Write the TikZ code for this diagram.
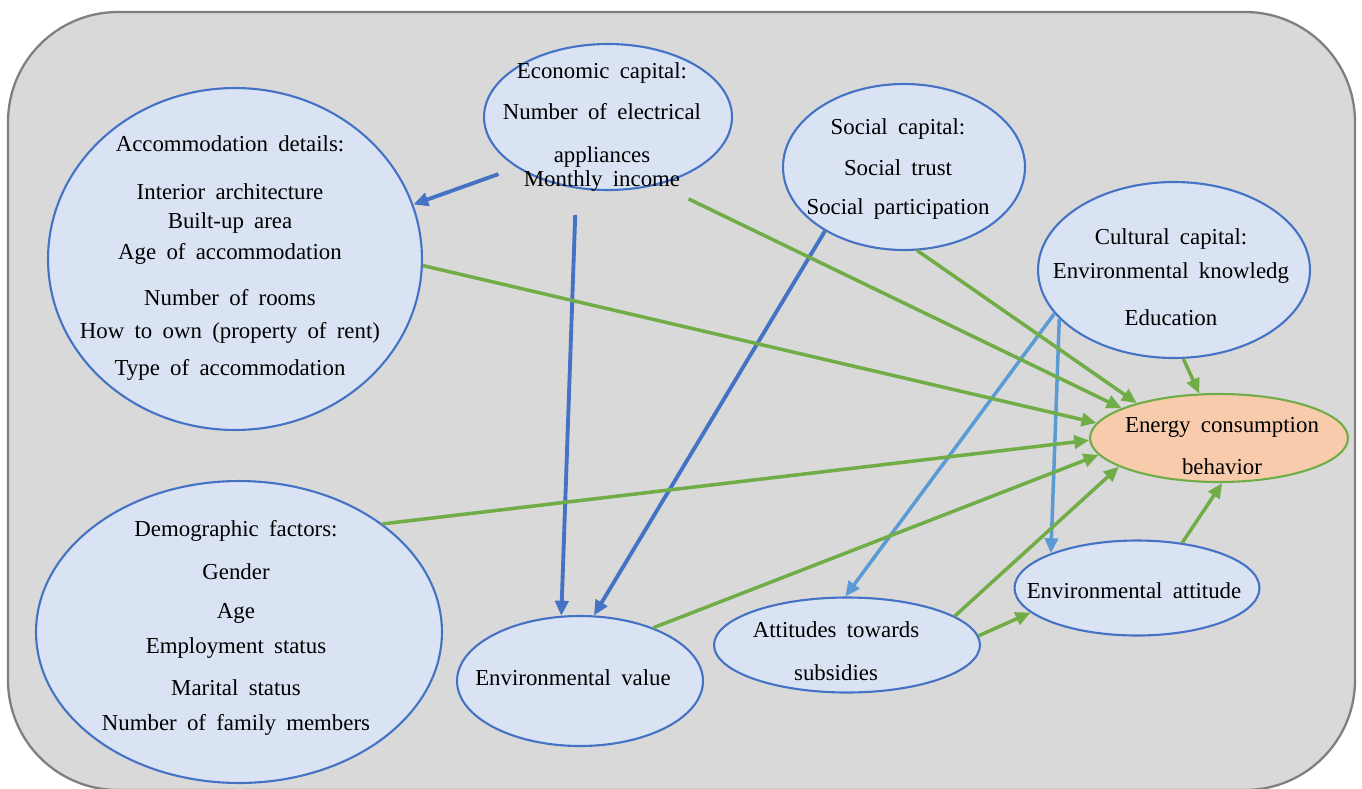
\documentclass[tikz,border=0pt]{standalone}
\usepackage{fontspec}
\setmainfont{Liberation Serif}
\usetikzlibrary{shapes,arrows.meta}

\definecolor{bgfill}{HTML}{D9D9D9}
\definecolor{bgline}{HTML}{7F7F7F}
\definecolor{darkblue}{HTML}{4472C4}
\definecolor{paleblue}{HTML}{5B9BD5}
\definecolor{ovalfill}{HTML}{DAE3F3}
\definecolor{leafgreen}{HTML}{70AD47}
\definecolor{peach}{HTML}{F8CBAD}

\begin{document}
\begin{tikzpicture}[x=0.02cm,y=-0.02cm]
  \tikzstyle{factor} = [ellipse, draw=darkblue, fill=ovalfill, line width=1.2pt, inner sep=0pt]
  \tikzstyle{txt} = [align=center, inner sep=0pt, font={\fontsize{13}{13.6}\selectfont\spaceskip=0.45em\relax}]
  \tikzstyle{line} = [line width=2pt, -{Triangle[length=8.5pt,width=7.5pt]}]
  \tikzstyle{dark} = [line, draw=darkblue, line width=2.2pt]
  \tikzstyle{pale} = [line, draw=paleblue]
  \tikzstyle{green} = [line, draw=leafgreen]
\useasboundingbox (0,0) rectangle (1362,788);
\draw [fill=bgfill, draw=bgline, line width=1.3pt, rounded corners=2.2cm] (8,12) rectangle (1355,790);
% ovals
\node [factor, minimum width=7.48cm, minimum height=6.84cm] (acc) at (235,259) {};
\node [factor, minimum width=4.96cm, minimum height=2.92cm] (eco) at (608,117) {};
\node [factor, minimum width=4.84cm, minimum height=3.32cm] (soc) at (904,167) {};
\node [factor, minimum width=5.44cm, minimum height=3.52cm] (cul) at (1174,270) {};
\node [factor, draw=leafgreen, fill=peach, minimum width=5.16cm, minimum height=1.76cm] (ene) at (1219,438) {};
\node [factor, minimum width=8.12cm, minimum height=6.04cm] (dem) at (239,632) {};
\node [factor, minimum width=4.92cm, minimum height=2.6cm] (val) at (580,681) {};
\node [factor, minimum width=5.32cm, minimum height=1.9cm] (sub) at (847,645) {};
\node [factor, minimum width=4.9cm, minimum height=1.9cm] (att) at (1137,588) {};
% texts
\node [txt] (acctxt) at (230,258) {Accommodation details:\\[13.6pt] Interior architecture\\[2.8pt]
  Built-up area\\[4.5pt] Age of accommodation\\[12.5pt] Number of rooms\\[5.1pt]
  How to own (property of rent)\\[7.4pt] Type of accommodation};
\node [txt] (ecotxt) at (602,127) {Economic capital:\\[9.6pt] Number of electrical\\[11.3pt]
  appliances\\ Monthly income};
\node [txt] (soctxt) at (898,169) {Social capital:\\[9.6pt] Social trust\\[8.5pt] Social participation};
\node [txt] (cultxt) at (1171,277) {Cultural capital:\\[6.2pt] Environmental knowledg\\[13pt] Education};
\node [txt] (enetxt) at (1222,446) {Energy consumption\\[10.2pt] behavior};
\node [txt] (demtxt) at (236,628) {Demographic factors:\\[10.8pt] Gender\\[8.5pt] Age\\[6.2pt]
  Employment status\\[10.8pt] Marital status\\[6.2pt] Number of family members};
\node [txt] (valtxt) at (573,678) {Environmental value};
\node [txt] (subtxt) at (836,651) {Attitudes towards\\[10.8pt] subsidies};
\node [txt] (atttxt) at (1134,591) {Environmental attitude};
% blue links
\path [dark, shorten <=11pt] (eco.209) -- (acc.17);
\path [dark, shorten <=15pt] (eco.246) -- (val.106);
\path [dark] (soc.219) -- (val.78);
\path [pale] (cul.200) -- (sub.92);
\path [pale] (cul.203) -- (att.158);
% green links
\path [green, shorten <=18.7pt] (eco.307) -- (ene.163);
\path [green] (soc.279) -- (ene.157);
\path [green] (acc.358) -- (ene.173);
\path [green] (dem.37) -- (ene.181);
\path [green] (val.36) -- (ene.188);
\path [green] (sub.15) -- (ene.196);
\path [green] (sub.4) -- (att.193);
\path [green] (att.45) -- (ene.274);
\path [green] (cul.276) -- (ene.114);
\end{tikzpicture}
\end{document}
